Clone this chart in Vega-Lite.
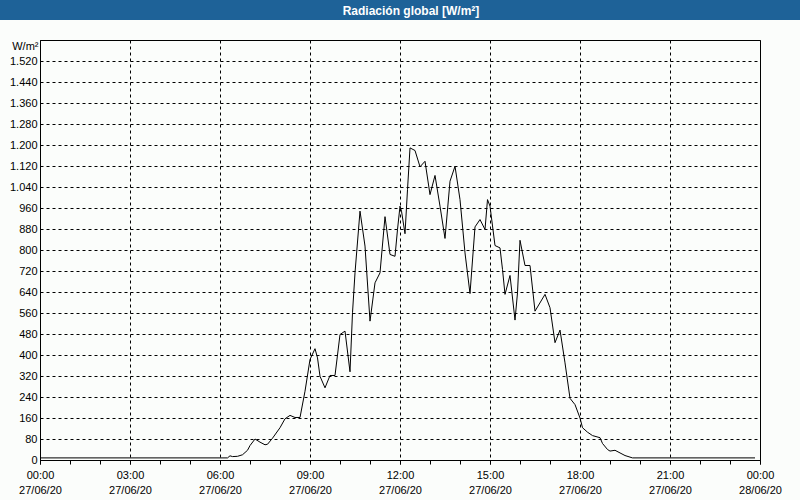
{
  "$schema": "https://vega.github.io/schema/vega-lite/v6.json",
  "width": 720,
  "height": 420,
  "autosize": {"type": "none"},
  "padding": {"left": 40, "top": 40, "right": 40, "bottom": 40},
  "background": "#fbfdfb",
  "title": {
    "text": "Radiación global [W/m²]",
    "color": "white",
    "font": "Liberation Sans",
    "fontSize": 12,
    "fontWeight": "bold",
    "anchor": "middle",
    "frame": "group",
    "baseline": "middle",
    "offset": -23,
    "dx": 11
  },
  "config": {
    "view": {"stroke": "black", "strokeWidth": 1, "fill": "#fbfdfb"},
    "legend": {"gradientHorizontalMaxLength": 800}
  },
  "resolve": {"axis": {"x": "independent"}},
  "data": {
    "values": [
      {"t": "2020-06-27T00:00", "v": 8},
      {"t": "2020-06-27T06:15", "v": 8},
      {"t": "2020-06-27T06:20", "v": 16},
      {"t": "2020-06-27T06:25", "v": 13},
      {"t": "2020-06-27T06:35", "v": 14},
      {"t": "2020-06-27T06:45", "v": 20},
      {"t": "2020-06-27T06:55", "v": 37},
      {"t": "2020-06-27T07:00", "v": 55},
      {"t": "2020-06-27T07:10", "v": 80},
      {"t": "2020-06-27T07:20", "v": 68},
      {"t": "2020-06-27T07:30", "v": 58},
      {"t": "2020-06-27T07:35", "v": 60},
      {"t": "2020-06-27T07:45", "v": 83},
      {"t": "2020-06-27T08:00", "v": 123},
      {"t": "2020-06-27T08:10", "v": 157},
      {"t": "2020-06-27T08:20", "v": 170},
      {"t": "2020-06-27T08:30", "v": 162},
      {"t": "2020-06-27T08:40", "v": 162},
      {"t": "2020-06-27T08:50", "v": 262},
      {"t": "2020-06-27T09:00", "v": 383},
      {"t": "2020-06-27T09:10", "v": 424},
      {"t": "2020-06-27T09:15", "v": 389},
      {"t": "2020-06-27T09:20", "v": 319},
      {"t": "2020-06-27T09:30", "v": 275},
      {"t": "2020-06-27T09:40", "v": 322},
      {"t": "2020-06-27T09:50", "v": 322},
      {"t": "2020-06-27T10:00", "v": 478},
      {"t": "2020-06-27T10:10", "v": 491},
      {"t": "2020-06-27T10:20", "v": 336},
      {"t": "2020-06-27T10:25", "v": 561},
      {"t": "2020-06-27T10:30", "v": 713},
      {"t": "2020-06-27T10:40", "v": 948},
      {"t": "2020-06-27T10:50", "v": 815},
      {"t": "2020-06-27T11:00", "v": 529},
      {"t": "2020-06-27T11:10", "v": 675},
      {"t": "2020-06-27T11:20", "v": 713},
      {"t": "2020-06-27T11:30", "v": 927},
      {"t": "2020-06-27T11:40", "v": 783},
      {"t": "2020-06-27T11:50", "v": 776},
      {"t": "2020-06-27T11:55", "v": 878},
      {"t": "2020-06-27T12:00", "v": 967},
      {"t": "2020-06-27T12:03", "v": 948},
      {"t": "2020-06-27T12:10", "v": 862},
      {"t": "2020-06-27T12:15", "v": 1030},
      {"t": "2020-06-27T12:20", "v": 1189},
      {"t": "2020-06-27T12:30", "v": 1179},
      {"t": "2020-06-27T12:40", "v": 1117},
      {"t": "2020-06-27T12:50", "v": 1138},
      {"t": "2020-06-27T13:00", "v": 1011},
      {"t": "2020-06-27T13:10", "v": 1084},
      {"t": "2020-06-27T13:20", "v": 967},
      {"t": "2020-06-27T13:30", "v": 844},
      {"t": "2020-06-27T13:40", "v": 1062},
      {"t": "2020-06-27T13:50", "v": 1119},
      {"t": "2020-06-27T14:00", "v": 992},
      {"t": "2020-06-27T14:10", "v": 789},
      {"t": "2020-06-27T14:20", "v": 634},
      {"t": "2020-06-27T14:30", "v": 888},
      {"t": "2020-06-27T14:40", "v": 916},
      {"t": "2020-06-27T14:50", "v": 878},
      {"t": "2020-06-27T14:55", "v": 992},
      {"t": "2020-06-27T15:00", "v": 967},
      {"t": "2020-06-27T15:10", "v": 817},
      {"t": "2020-06-27T15:20", "v": 808},
      {"t": "2020-06-27T15:25", "v": 726},
      {"t": "2020-06-27T15:30", "v": 631},
      {"t": "2020-06-27T15:40", "v": 703},
      {"t": "2020-06-27T15:50", "v": 533},
      {"t": "2020-06-27T15:55", "v": 637},
      {"t": "2020-06-27T16:00", "v": 837},
      {"t": "2020-06-27T16:10", "v": 741},
      {"t": "2020-06-27T16:20", "v": 741},
      {"t": "2020-06-27T16:30", "v": 567},
      {"t": "2020-06-27T16:50", "v": 631},
      {"t": "2020-06-27T17:00", "v": 580},
      {"t": "2020-06-27T17:10", "v": 447},
      {"t": "2020-06-27T17:20", "v": 495},
      {"t": "2020-06-27T17:30", "v": 370},
      {"t": "2020-06-27T17:40", "v": 235},
      {"t": "2020-06-27T17:50", "v": 211},
      {"t": "2020-06-27T18:00", "v": 160},
      {"t": "2020-06-27T18:05", "v": 123},
      {"t": "2020-06-27T18:15", "v": 106},
      {"t": "2020-06-27T18:25", "v": 93},
      {"t": "2020-06-27T18:40", "v": 85},
      {"t": "2020-06-27T18:45", "v": 63},
      {"t": "2020-06-27T18:55", "v": 40},
      {"t": "2020-06-27T19:00", "v": 34},
      {"t": "2020-06-27T19:10", "v": 37},
      {"t": "2020-06-27T19:20", "v": 27},
      {"t": "2020-06-27T19:30", "v": 17},
      {"t": "2020-06-27T19:40", "v": 11},
      {"t": "2020-06-27T19:45", "v": 8},
      {"t": "2020-06-27T23:50", "v": 8}
    ]
  },
  "encoding": {
    "y": {
      "field": "v",
      "type": "quantitative",
      "scale": {"domain": [0, 1600], "nice": false},
      "axis": {
        "values": [0, 80, 160, 240, 320, 400, 480, 560, 640, 720, 800, 880, 960, 1040, 1120, 1200, 1280, 1360, 1440, 1520],
        "grid": true,
        "gridColor": "black",
        "gridDash": [3, 3],
        "gridWidth": 1,
        "ticks": false,
        "domainColor": "black",
        "labelExpr": "replace(format(datum.value, ','), ',', '.')",
        "labelFont": "Liberation Sans",
        "labelFontSize": 11,
        "labelColor": "black",
        "labelPadding": 3,
        "title": "W/m²",
        "titleAngle": 0,
        "titleAlign": "right",
        "titleBaseline": "middle",
        "titleX": -2,
        "titleY": 6,
        "titleFont": "Liberation Sans",
        "titleFontSize": 11,
        "titleFontWeight": "normal",
        "titleColor": "black"
      }
    }
  },
  "layer": [
    {
      "mark": {"type": "point", "opacity": 0},
      "encoding": {
        "x": {
          "field": "t",
          "type": "temporal",
          "scale": {"nice": "day"},
          "axis": {
            "orient": "bottom",
            "title": null,
            "grid": true,
            "gridColor": "black",
            "gridDash": [3, 3],
            "gridWidth": 1,
            "tickCount": 8,
            "ticks": true,
            "tickSize": 4,
            "tickColor": "black",
            "domain": false,
            "labelExpr": "[timeFormat(datum.value, '%H:%M'), timeFormat(datum.value, '%d/%m/%y')]",
            "labelFont": "Liberation Sans",
            "labelFontSize": 11,
            "labelColor": "black",
            "labelPadding": 5,
            "labelLineHeight": 15,
            "labelOverlap": false,
            "labelFlush": false,
            "labelBound": false
          }
        },
        "color": {
          "field": "v",
          "type": "quantitative",
          "scale": {"range": ["#1e6298", "#1e6298"]},
          "legend": {
            "orient": "none",
            "legendX": -40,
            "legendY": -40,
            "direction": "horizontal",
            "gradientLength": 800,
            "gradientThickness": 20,
            "gradientStrokeWidth": 0,
            "labels": false,
            "labelOpacity": 0,
            "labelFontSize": 1,
            "title": null,
            "padding": 0
          }
        }
      }
    },
    {
      "mark": {"type": "line", "color": "black", "strokeWidth": 1},
      "encoding": {
        "x": {
          "field": "t",
          "type": "temporal",
          "axis": {
            "orient": "bottom",
            "title": null,
            "grid": false,
            "tickCount": 24,
            "tickSize": 4,
            "tickColor": "black",
            "domainColor": "black",
            "labels": false
          }
        }
      }
    }
  ]
}
